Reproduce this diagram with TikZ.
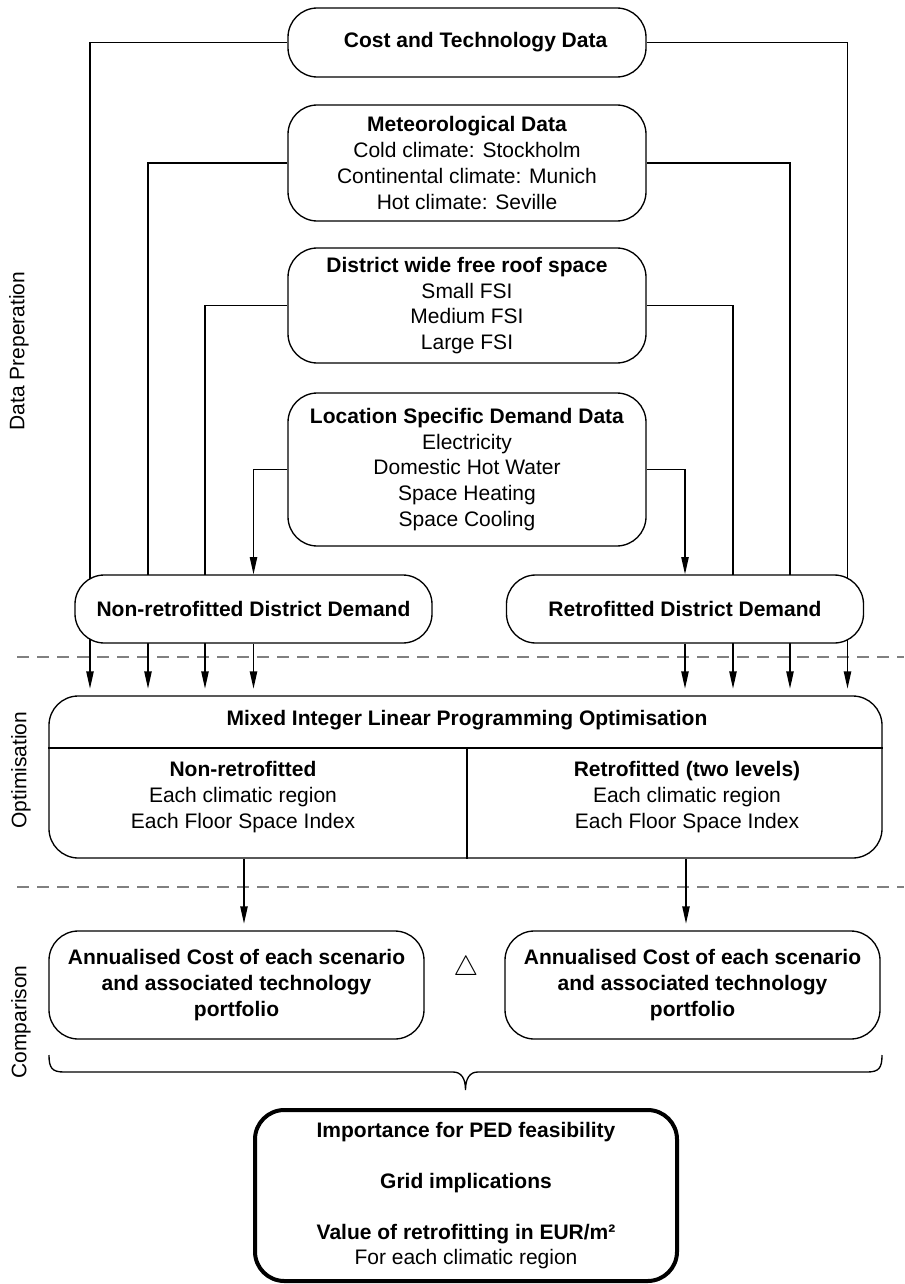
\documentclass[tikz,border=0pt]{standalone}
\usepackage{fontspec}
\setmainfont{Liberation Sans}
\usetikzlibrary{arrows.meta,calc}
\pgfdeclarelayer{bg}
\pgfsetlayers{bg,main}
\newcommand{\myfs}{\fontsize{15.75}{19.3}\selectfont}
\begin{document}
\begin{tikzpicture}[x=0.75pt,y=-0.75pt,
  box/.style={draw, line width=1pt, rounded corners=22pt, fill=white, align=center, inner sep=0pt, font=\myfs},
  txt/.style={align=center, inner sep=0pt, font=\myfs},
  side/.style={inner sep=0pt, font=\fontsize{15.75}{18}\selectfont, rotate=90},
  conn/.style={line width=1pt},
  arr/.style={conn, -{Triangle[length=13pt,width=5.5pt]}, shorten >=5pt},
  arrz/.style={conn, -{Triangle[length=13pt,width=5.5pt]}},
  sep/.style={line width=1pt, gray, dash pattern=on 9pt off 6pt}
]
\useasboundingbox (0,0) rectangle (904,1284);

% side labels
\node[side] (lprep) at (19,351) {Data Preperation};
\node[side] (lopt) at (21,770) {Optimisation};
\node[side] (lcmp) at (21,1022) {Comparison};

% data boxes
\node[box, minimum width=268.5pt, minimum height=51.75pt] (cost) at (467,42.5) {\hspace*{13pt}\textbf{Cost and Technology Data}};
\node[box, minimum width=268.5pt, minimum height=87pt] (met) at (467,163) {\textbf{Meteorological Data}\\Cold climate: Stockholm\\Continental climate: Munich\\Hot climate: Seville};
\node[box, minimum width=268.5pt, minimum height=86.25pt] (fsi) at (467,305.5) {\textbf{District wide free roof space}\\Small FSI\\Medium FSI\\Large FSI};
\node[box, minimum width=268.5pt, minimum height=114.75pt] (loc) at (467,469.5) {\textbf{Location Specific Demand Data}\\Electricity\\Domestic Hot Water\\Space Heating\\Space Cooling};

\node[box, minimum width=267.75pt, minimum height=51pt] (nrd) at (253.5,609) {\textbf{Non-retrofitted District Demand}};
\node[box, minimum width=267.75pt, minimum height=51pt] (rd) at (685,609) {\textbf{Retrofitted District Demand}};

% optimisation
\node[box, minimum width=624.75pt, minimum height=121.5pt] (milp) at (465.5,777) {};
\node[txt] (mt) at (467,720) {\textbf{Mixed Integer Linear Programming Optimisation}};
\node[txt] (ml) at (243,797) {\textbf{Non-retrofitted}\\Each climatic region\\Each Floor Space Index};
\node[txt] (mr) at (687,797) {\textbf{Retrofitted (two levels)}\\Each climatic region\\Each Floor Space Index};
\coordinate (dv) at (467,748);
\draw[line width=1pt] (milp.west |- dv) -- (milp.east |- dv);
\draw[line width=1pt] (dv) -- (dv |- milp.south);

% comparison
\node[box, minimum width=281.25pt, minimum height=81pt] (ac1) at (236.5,985) {\textbf{Annualised Cost of each scenario}\\\textbf{and associated technology}\\\textbf{portfolio}};
\node[box, minimum width=281.25pt, minimum height=81pt] (ac2) at (692.5,985) {\textbf{Annualised Cost of each scenario}\\\textbf{and associated technology}\\\textbf{portfolio}};
\node[inner sep=0pt] (delta) at (466,969) {\fontsize{22}{22}\selectfont$\triangle$};

% brace
\draw[line width=1pt] (49,1055) .. controls (49,1068) and (52,1072) .. (64,1072) -- (453,1072)
  .. controls (461,1072) and (465.5,1078) .. (465.5,1090)
  .. controls (465.5,1078) and (470,1072) .. (478,1072) -- (867,1072)
  .. controls (879,1072) and (882,1068) .. (882,1055);

% result
\node[box, line width=3pt, minimum width=316.5pt, minimum height=128.25pt] (res) at (466,1195.5) {\textbf{Importance for PED feasibility}\\[19pt]\textbf{Grid implications}\\[19pt]\textbf{Value of retrofitting in EUR/m²}\\For each climatic region};

% x positions of the feeds
\coordinate (xa) at (90,0);
\coordinate (xb) at (148,0);
\coordinate (xc) at (205,0);
\coordinate (xf) at (733,0);
\coordinate (xg) at (790,0);
\coordinate (xh) at (847.5,0);
\coordinate (xl) at (244,0);
\coordinate (xr) at (686,0);

\begin{pgfonlayer}{bg}
\draw[sep] (17,657) -- (904,657);
\draw[sep] (17,887) -- (904,887);
\draw[arr] (cost.west) -| (xa |- milp.north);
\draw[arr] (cost.east) -| (xh |- milp.north);
\draw[arr] (met.west) -| (xb |- milp.north);
\draw[arr] (met.east) -| (xg |- milp.north);
\draw[arr] (fsi.west) -| (xc |- milp.north);
\draw[arr] (fsi.east) -| (xf |- milp.north);
\draw[arrz] (loc.west) -| (nrd.north);
\draw[arrz] (loc.east) -| (rd.north);
\draw[arr] (nrd.south) -- (nrd.south |- milp.north);
\draw[arr] (rd.south) -- (rd.south |- milp.north);
\draw[arr] (xl |- milp.south) -- (xl |- ac1.north);
\draw[arr] (xr |- milp.south) -- (xr |- ac2.north);
\end{pgfonlayer}
\end{tikzpicture}
\end{document}
